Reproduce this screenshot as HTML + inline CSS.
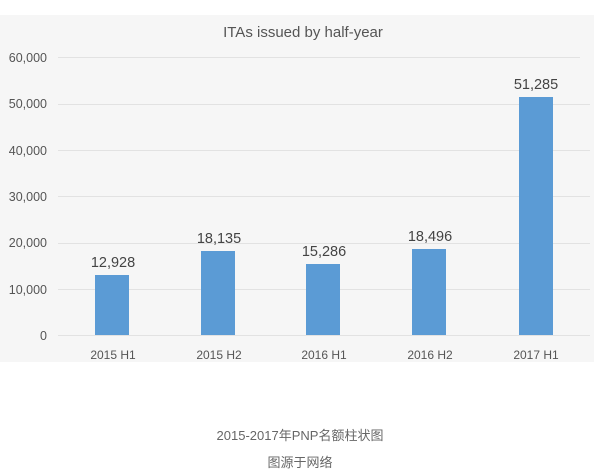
<!DOCTYPE html>
<html><head><meta charset="utf-8"><style>
html,body{margin:0;padding:0;background:#fff;width:607px;height:475px;overflow:hidden}
</style></head><body>
<svg width="607" height="475" xmlns="http://www.w3.org/2000/svg" style="position:absolute;left:0;top:0">
<rect x="0" y="15" width="594" height="347" fill="#f6f6f6"/>
<text x="303" y="37" text-anchor="middle" font-family="Liberation Sans, sans-serif" font-size="15" fill="#555">ITAs issued by half-year</text>
<g stroke="#e2e2e2" stroke-width="1">
<line x1="58" y1="57.5" x2="580" y2="57.5"/>
<line x1="58" y1="104.5" x2="590" y2="104.5"/>
<line x1="58" y1="150.5" x2="590" y2="150.5"/>
<line x1="58" y1="196.5" x2="590" y2="196.5"/>
<line x1="58" y1="243.5" x2="590" y2="243.5"/>
<line x1="58" y1="289.5" x2="590" y2="289.5"/>
<line x1="58" y1="335.5" x2="590" y2="335.5"/>
</g>
<g font-family="Liberation Sans, sans-serif" font-size="12.5" fill="#555" text-anchor="end">
<text x="47" y="62">60,000</text>
<text x="47" y="108">50,000</text>
<text x="47" y="155">40,000</text>
<text x="47" y="201">30,000</text>
<text x="47" y="247">20,000</text>
<text x="47" y="294">10,000</text>
<text x="47" y="340">0</text>
</g>
<g fill="#5b9bd5">
<rect x="95" y="275" width="34" height="60"/>
<rect x="201" y="251" width="34" height="84"/>
<rect x="306" y="264" width="34" height="71"/>
<rect x="412" y="249" width="34" height="86"/>
<rect x="519" y="97" width="34" height="238"/>
</g>
<g font-family="Liberation Sans, sans-serif" font-size="14.5" fill="#444" text-anchor="middle">
<text x="113" y="267">12,928</text>
<text x="219" y="243">18,135</text>
<text x="324" y="256">15,286</text>
<text x="430" y="241">18,496</text>
<text x="536" y="89">51,285</text>
</g>
<g font-family="Liberation Sans, sans-serif" font-size="12" fill="#555" text-anchor="middle">
<text x="113" y="359">2015 H1</text>
<text x="219" y="359">2015 H2</text>
<text x="324" y="359">2016 H1</text>
<text x="430" y="359">2016 H2</text>
<text x="536" y="359">2017 H1</text>
</g>
<g font-family="Liberation Sans, 'Noto Sans CJK SC', sans-serif" font-size="13" fill="#666" text-anchor="middle">
<text x="300" y="440">2015-2017年PNP名额柱状图</text>
<text x="300" y="467">图源于网络</text>
</g>
</svg>
</body></html>
